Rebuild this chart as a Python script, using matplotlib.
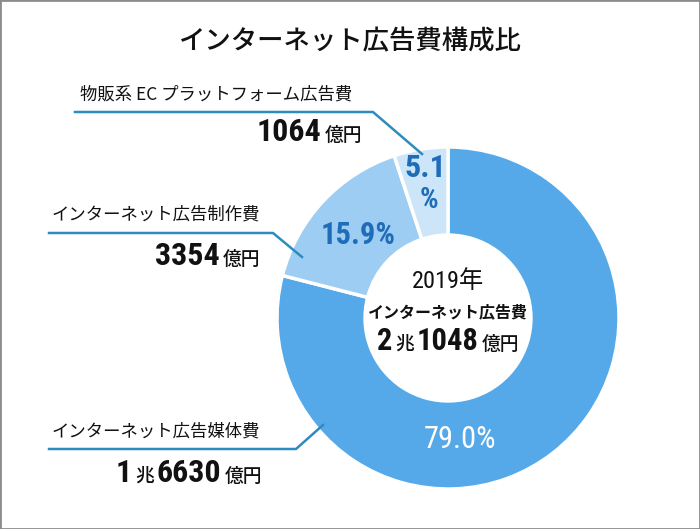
import matplotlib
matplotlib.use('Agg')
import matplotlib.pyplot as plt
from matplotlib import font_manager
from matplotlib.lines import Line2D
from matplotlib.patches import Rectangle

title = 'インターネット広告費構成比'
categories = ['インターネット広告媒体費', 'インターネット広告制作費', '物販系 EC プラットフォーム広告費']
shares = [79.0, 15.9, 5.1]
# amounts split into (number, unit) pieces as printed
amounts = [
    [('1', 'num'), ('兆', 'unit'), ('6630', 'num'), ('億円', 'unit')],
    [('3354', 'num'), ('億円', 'unit')],
    [('1064', 'num'), ('億円', 'unit')],
]
total_year = '2019年'
total_label = 'インターネット広告費'
total_amount = [('2', 'num'), ('兆', 'unit'), ('1048', 'num'), ('億円', 'unit')]

colors = ['#55a9e9', '#9ecdf3', '#cde5f9']
pct_colors = ['white', '#1f6db8', '#1f6db8']
line_color = '#2e8bc0'

W, H = 700, 529
JP = 'Noto Sans CJK JP'
installed = {f.name for f in font_manager.fontManager.ttflist}
NUM = next((f for f in ['Liberation Sans Narrow', 'Roboto Condensed', 'Liberation Sans']
            if f in installed), 'DejaVu Sans')

fig = plt.figure(figsize=(W / 100, H / 100), dpi=100)
fig.patch.set_facecolor('white')


def fx(x):
    return x / W


def fy(y):
    return 1 - y / H


# outer grey frame
fig.patches.append(Rectangle((0, 0), 1, 1, transform=fig.transFigure,
                             fill=False, edgecolor='#8c8c8c', linewidth=2))

# donut: centre (448, 318) px, outer radius 171 px
cx, cy, R = 448, 318, 171
lim = 1.2
side = 2 * R * lim
ax = fig.add_axes([fx(cx - side / 2), (H - cy - side / 2) / H, side / W, side / H])
ax.pie(shares, startangle=90, counterclock=False, colors=colors, radius=1,
       wedgeprops=dict(width=0.515, edgecolor='white', linewidth=2.5))
ax.set_xlim(-lim, lim)
ax.set_ylim(-lim, lim)
ax.set_aspect('equal')
ax.axis('off')

# percentage labels
ax.text(0.07, -0.713, f'{shares[0]:.1f}%', color=pct_colors[0], fontsize=22,
        family=NUM, ha='center', va='center')
ax.text(-0.526, 0.485, f'{shares[1]:.1f}%', color=pct_colors[1], fontsize=22,
        family=NUM, weight='bold', ha='center', va='center')
ax.text(-0.13, 0.877, f'{shares[2]:.1f}', color=pct_colors[2], fontsize=23,
        family=NUM, weight='bold', ha='center', va='center')
ax.text(-0.112, 0.69, '%', color=pct_colors[2], fontsize=21,
        family=NUM, weight='bold', ha='center', va='center')

fig.text(0.5, fy(42), title, family=JP, fontsize=19, weight='medium',
         ha='center', va='center', color='#111111')

renderer = fig.canvas.get_renderer()


def piece_style(kind, big=23):
    if kind == 'num':
        return dict(family=NUM, weight='bold', fontsize=big)
    return dict(family=JP, fontsize=13.5, weight='medium')


def amount_row(parts, x, y, align='right', big=23, gap=3):
    # measure all pieces, then lay them out left to right on a common baseline
    widths = []
    for s, kind in parts:
        t = fig.text(0, 0, s, **piece_style(kind, big))
        widths.append(t.get_window_extent(renderer).width)
        t.remove()
    total = sum(widths) + gap * (len(parts) - 1)
    left = x - total if align == 'right' else x - total / 2
    for (s, kind), w in zip(parts, widths):
        fig.text(fx(left), fy(y), s, ha='left', va='baseline', color='#111111',
                 **piece_style(kind, big))
        left += w + gap


def leader(points):
    xs = [fx(p[0]) for p in points]
    ys = [fy(p[1]) for p in points]
    fig.lines.append(Line2D(xs, ys, transform=fig.transFigure, color=line_color,
                            linewidth=1.8))


# category labels with leader lines
label_pos = [(52, 432), (52, 215), (80, 95)]
lines = [
    [(49, 449), (296, 449), (323, 425)],
    [(49, 233), (273, 233), (302, 257)],
    [(75, 112), (373, 112), (422, 154)],
]
amount_pos = [(262, 482), (260, 265), (362, 141)]
for name, (lx, ly), pts, parts, (ax_, ay_) in zip(categories, label_pos, lines,
                                                  amounts, amount_pos):
    fig.text(fx(lx), fy(ly), name, family=JP, fontsize=12.5, ha='left',
             va='center', color='#111111')
    leader(pts)
    amount_row(parts, ax_, ay_)

# centre text
fig.text(fx(cx), fy(281), total_year, family=[NUM, JP], fontsize=17.5,
         ha='center', va='center', color='#111111')
fig.text(fx(cx), fy(312), total_label, family=JP, fontsize=11.5,
         weight='bold', ha='center', va='center', color='#111111')
amount_row(total_amount, cx, 350, align='center', big=22)

fig.savefig('out.png', dpi=100, facecolor='white')
